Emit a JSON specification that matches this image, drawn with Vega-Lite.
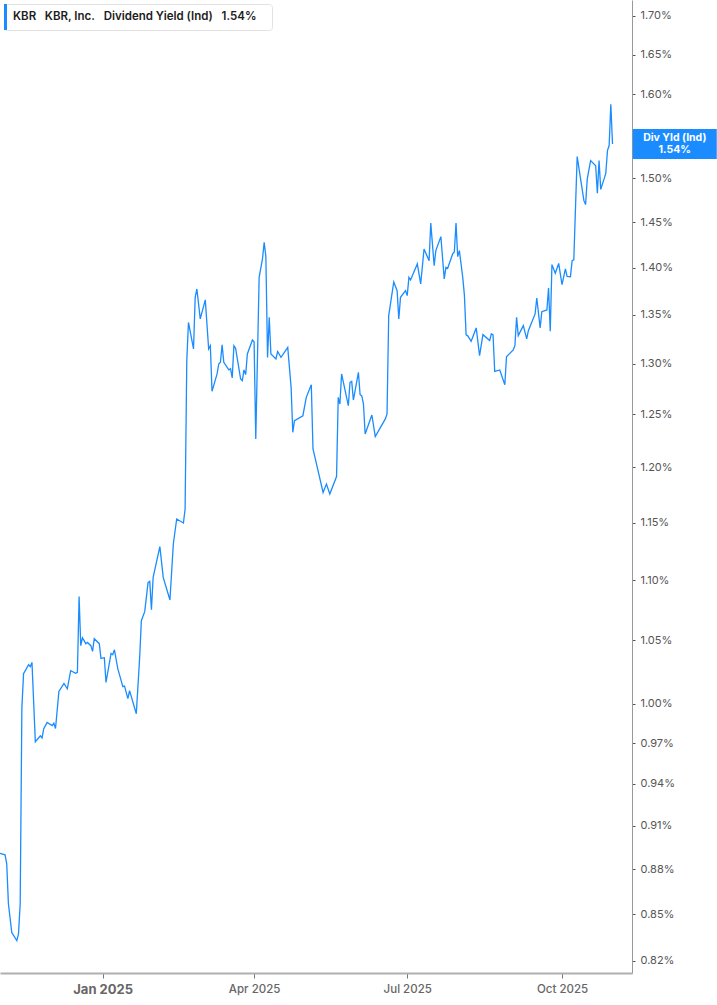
{
  "$schema": "https://vega.github.io/schema/vega-lite/v6.json",
  "width": 632,
  "height": 973,
  "autosize": "none",
  "padding": {"left": 0, "top": 0, "right": 85, "bottom": 32},
  "background": "white",
  "config": {"view": {"stroke": null}, "font": "Inter", "axis": {"grid": false, "title": null}},
  "datasets": {
    "kbr": [
      {"date": "2024-11-01", "yield": 0.8909}, {"date": "2024-11-04", "yield": 0.8900}, {"date": "2024-11-05", "yield": 0.8838},
      {"date": "2024-11-06", "yield": 0.8570}, {"date": "2024-11-08", "yield": 0.8382}, {"date": "2024-11-11", "yield": 0.8329},
      {"date": "2024-11-12", "yield": 0.8374}, {"date": "2024-11-13", "yield": 0.8570}, {"date": "2024-11-14", "yield": 0.9970},
      {"date": "2024-11-15", "yield": 1.0234}, {"date": "2024-11-18", "yield": 1.0306}, {"date": "2024-11-19", "yield": 1.0290},
      {"date": "2024-11-20", "yield": 1.0324}, {"date": "2024-11-22", "yield": 0.9711}, {"date": "2024-11-25", "yield": 0.9756},
      {"date": "2024-11-26", "yield": 0.9740}, {"date": "2024-11-27", "yield": 0.9809}, {"date": "2024-11-29", "yield": 0.9857},
      {"date": "2024-12-02", "yield": 0.9832}, {"date": "2024-12-03", "yield": 0.9850}, {"date": "2024-12-04", "yield": 0.9811},
      {"date": "2024-12-06", "yield": 1.0095}, {"date": "2024-12-09", "yield": 1.0158}, {"date": "2024-12-11", "yield": 1.0116},
      {"date": "2024-12-13", "yield": 1.0258}, {"date": "2024-12-16", "yield": 1.0237}, {"date": "2024-12-17", "yield": 1.0245},
      {"date": "2024-12-18", "yield": 1.0863}, {"date": "2024-12-19", "yield": 1.0458}, {"date": "2024-12-20", "yield": 1.0522},
      {"date": "2024-12-22", "yield": 1.0474}, {"date": "2024-12-23", "yield": 1.0484}, {"date": "2024-12-25", "yield": 1.0458},
      {"date": "2024-12-26", "yield": 1.0412}, {"date": "2024-12-27", "yield": 1.0514}, {"date": "2024-12-30", "yield": 1.0474},
      {"date": "2024-12-31", "yield": 1.0356}, {"date": "2025-01-02", "yield": 1.0361}, {"date": "2025-01-03", "yield": 1.0166},
      {"date": "2025-01-06", "yield": 1.0396}, {"date": "2025-01-07", "yield": 1.0385}, {"date": "2025-01-08", "yield": 1.0425},
      {"date": "2025-01-10", "yield": 1.0274}, {"date": "2025-01-13", "yield": 1.0132}, {"date": "2025-01-14", "yield": 1.0137},
      {"date": "2025-01-16", "yield": 1.0039}, {"date": "2025-01-17", "yield": 1.0101}, {"date": "2025-01-21", "yield": 0.9923},
      {"date": "2025-01-23", "yield": 1.0364}, {"date": "2025-01-24", "yield": 1.0661}, {"date": "2025-01-26", "yield": 1.0736},
      {"date": "2025-01-28", "yield": 1.0981}, {"date": "2025-01-29", "yield": 1.0990}, {"date": "2025-01-30", "yield": 1.0752},
      {"date": "2025-01-31", "yield": 1.1024}, {"date": "2025-02-04", "yield": 1.1288}, {"date": "2025-02-06", "yield": 1.1024},
      {"date": "2025-02-10", "yield": 1.0833}, {"date": "2025-02-12", "yield": 1.1311}, {"date": "2025-02-14", "yield": 1.1532},
      {"date": "2025-02-18", "yield": 1.1496}, {"date": "2025-02-19", "yield": 1.1621}, {"date": "2025-02-20", "yield": 1.3030},
      {"date": "2025-02-21", "yield": 1.3420}, {"date": "2025-02-24", "yield": 1.3148}, {"date": "2025-02-25", "yield": 1.3682},
      {"date": "2025-02-26", "yield": 1.3771}, {"date": "2025-02-28", "yield": 1.3456}, {"date": "2025-03-03", "yield": 1.3655},
      {"date": "2025-03-05", "yield": 1.3148}, {"date": "2025-03-06", "yield": 1.3181}, {"date": "2025-03-07", "yield": 1.2725},
      {"date": "2025-03-10", "yield": 1.2897}, {"date": "2025-03-11", "yield": 1.2997}, {"date": "2025-03-12", "yield": 1.3015},
      {"date": "2025-03-13", "yield": 1.3189}, {"date": "2025-03-14", "yield": 1.3013}, {"date": "2025-03-17", "yield": 1.2937},
      {"date": "2025-03-18", "yield": 1.2950}, {"date": "2025-03-19", "yield": 1.2857}, {"date": "2025-03-20", "yield": 1.3181},
      {"date": "2025-03-21", "yield": 1.3155}, {"date": "2025-03-24", "yield": 1.2847}, {"date": "2025-03-25", "yield": 1.2830},
      {"date": "2025-03-26", "yield": 1.2937}, {"date": "2025-03-27", "yield": 1.2890}, {"date": "2025-03-28", "yield": 1.3097},
      {"date": "2025-03-31", "yield": 1.3239}, {"date": "2025-04-01", "yield": 1.3222}, {"date": "2025-04-02", "yield": 1.2266},
      {"date": "2025-04-04", "yield": 1.3895}, {"date": "2025-04-06", "yield": 1.4097}, {"date": "2025-04-07", "yield": 1.4275},
      {"date": "2025-04-08", "yield": 1.4118}, {"date": "2025-04-09", "yield": 1.3063}, {"date": "2025-04-10", "yield": 1.3473},
      {"date": "2025-04-11", "yield": 1.3097}, {"date": "2025-04-14", "yield": 1.3047}, {"date": "2025-04-15", "yield": 1.3123},
      {"date": "2025-04-17", "yield": 1.3063}, {"date": "2025-04-21", "yield": 1.3164}, {"date": "2025-04-23", "yield": 1.2764},
      {"date": "2025-04-24", "yield": 1.2329}, {"date": "2025-04-25", "yield": 1.2441}, {"date": "2025-04-30", "yield": 1.2488},
      {"date": "2025-05-02", "yield": 1.2666}, {"date": "2025-05-05", "yield": 1.2790}, {"date": "2025-05-06", "yield": 1.2172},
      {"date": "2025-05-09", "yield": 1.1970}, {"date": "2025-05-12", "yield": 1.1770}, {"date": "2025-05-14", "yield": 1.1847},
      {"date": "2025-05-16", "yield": 1.1756}, {"date": "2025-05-20", "yield": 1.1915}, {"date": "2025-05-21", "yield": 1.2666},
      {"date": "2025-05-22", "yield": 1.2601}, {"date": "2025-05-23", "yield": 1.2897}, {"date": "2025-05-27", "yield": 1.2585},
      {"date": "2025-05-28", "yield": 1.2814}, {"date": "2025-05-29", "yield": 1.2824}, {"date": "2025-05-30", "yield": 1.2640},
      {"date": "2025-06-02", "yield": 1.2913}, {"date": "2025-06-03", "yield": 1.2692}, {"date": "2025-06-04", "yield": 1.2680},
      {"date": "2025-06-05", "yield": 1.2601}, {"date": "2025-06-06", "yield": 1.2313}, {"date": "2025-06-10", "yield": 1.2495},
      {"date": "2025-06-12", "yield": 1.2288}, {"date": "2025-06-18", "yield": 1.2457}, {"date": "2025-06-19", "yield": 1.2505},
      {"date": "2025-06-20", "yield": 1.3490}, {"date": "2025-06-23", "yield": 1.3845}, {"date": "2025-06-25", "yield": 1.3753},
      {"date": "2025-06-26", "yield": 1.3456}, {"date": "2025-06-27", "yield": 1.3682}, {"date": "2025-06-30", "yield": 1.3753},
      {"date": "2025-07-01", "yield": 1.3700}, {"date": "2025-07-02", "yield": 1.3895}, {"date": "2025-07-03", "yield": 1.3867},
      {"date": "2025-07-07", "yield": 1.4040}, {"date": "2025-07-09", "yield": 1.3824}, {"date": "2025-07-11", "yield": 1.4202},
      {"date": "2025-07-14", "yield": 1.4075}, {"date": "2025-07-15", "yield": 1.4490}, {"date": "2025-07-17", "yield": 1.4021},
      {"date": "2025-07-18", "yield": 1.4184}, {"date": "2025-07-21", "yield": 1.4338}, {"date": "2025-07-23", "yield": 1.3877},
      {"date": "2025-07-24", "yield": 1.4002}, {"date": "2025-07-25", "yield": 1.3990}, {"date": "2025-07-28", "yield": 1.4148},
      {"date": "2025-07-29", "yield": 1.4170}, {"date": "2025-07-30", "yield": 1.4490}, {"date": "2025-07-31", "yield": 1.4118},
      {"date": "2025-08-01", "yield": 1.4184}, {"date": "2025-08-03", "yield": 1.3895}, {"date": "2025-08-04", "yield": 1.3700},
      {"date": "2025-08-05", "yield": 1.3291}, {"date": "2025-08-06", "yield": 1.3282}, {"date": "2025-08-08", "yield": 1.3226},
      {"date": "2025-08-11", "yield": 1.3363}, {"date": "2025-08-13", "yield": 1.3080}, {"date": "2025-08-15", "yield": 1.3294},
      {"date": "2025-08-19", "yield": 1.3233}, {"date": "2025-08-20", "yield": 1.3302}, {"date": "2025-08-21", "yield": 1.3291},
      {"date": "2025-08-22", "yield": 1.2923}, {"date": "2025-08-25", "yield": 1.2937}, {"date": "2025-08-28", "yield": 1.2790},
      {"date": "2025-08-29", "yield": 1.3070}, {"date": "2025-09-02", "yield": 1.3139}, {"date": "2025-09-03", "yield": 1.3181},
      {"date": "2025-09-04", "yield": 1.3472}, {"date": "2025-09-05", "yield": 1.3284}, {"date": "2025-09-08", "yield": 1.3387},
      {"date": "2025-09-10", "yield": 1.3250}, {"date": "2025-09-11", "yield": 1.3335}, {"date": "2025-09-15", "yield": 1.3508},
      {"date": "2025-09-16", "yield": 1.3675}, {"date": "2025-09-18", "yield": 1.3363}, {"date": "2025-09-19", "yield": 1.3532},
      {"date": "2025-09-22", "yield": 1.3550}, {"date": "2025-09-23", "yield": 1.3782}, {"date": "2025-09-24", "yield": 1.3328},
      {"date": "2025-09-25", "yield": 1.4032}, {"date": "2025-09-27", "yield": 1.3938}, {"date": "2025-09-29", "yield": 1.4045},
      {"date": "2025-10-01", "yield": 1.3817}, {"date": "2025-10-03", "yield": 1.3985}, {"date": "2025-10-04", "yield": 1.3906},
      {"date": "2025-10-06", "yield": 1.3902}, {"date": "2025-10-07", "yield": 1.4075}, {"date": "2025-10-08", "yield": 1.4083},
      {"date": "2025-10-10", "yield": 1.5252}, {"date": "2025-10-14", "yield": 1.4742}, {"date": "2025-10-15", "yield": 1.4697},
      {"date": "2025-10-16", "yield": 1.4992}, {"date": "2025-10-18", "yield": 1.5204}, {"date": "2025-10-21", "yield": 1.5145},
      {"date": "2025-10-22", "yield": 1.4826}, {"date": "2025-10-23", "yield": 1.5204}, {"date": "2025-10-24", "yield": 1.4871},
      {"date": "2025-10-26", "yield": 1.4992}, {"date": "2025-10-27", "yield": 1.5056}, {"date": "2025-10-28", "yield": 1.5322},
      {"date": "2025-10-29", "yield": 1.5382}, {"date": "2025-10-30", "yield": 1.5880}, {"date": "2025-10-31", "yield": 1.5400}
    ],
    "tag": [{"label": ["Div Yld (Ind)", "1.54%"], "yield": 1.54}]
  },
  "layer": [
    {
      "data": {"name": "kbr"},
      "mark": {"type": "line", "strokeWidth": 1.3},
      "encoding": {
        "x": {
          "field": "date",
          "type": "temporal",
          "scale": {
            "type": "utc",
            "domain": [
              {"year": 2024, "month": 11, "date": 1, "utc": true},
              {"year": 2025, "month": 11, "date": 11, "hours": 14, "utc": true}
            ]
          },
          "axis": {
            "values": [
              {"year": 2025, "month": 1, "date": 1, "utc": true},
              {"year": 2025, "month": 4, "date": 1, "utc": true},
              {"year": 2025, "month": 7, "date": 1, "utc": true},
              {"year": 2025, "month": 10, "date": 1, "utc": true}
            ],
            "labelExpr": "utcFormat(datum.value, '%b %Y')",
            "labelFont": "Inter",
            "labelFontSize": {"condition": {"test": "utcmonth(datum.value) === 0", "value": 13}, "value": 11.5},
            "labelFontWeight": {"condition": {"test": "utcmonth(datum.value) === 0", "value": "bold"}, "value": 500},
            "labelColor": "#666666",
            "labelPadding": 5,
            "domainColor": "#b0b0b0",
            "domainWidth": 2,
            "tickColor": "#777777",
            "tickSize": 5,
            "tickWidth": 1
          }
        },
        "y": {
          "field": "yield",
          "type": "quantitative",
          "scale": {"type": "log", "domain": [0.8124, 1.721], "nice": false, "zero": false},
          "axis": {
            "orient": "right",
            "values": [0.82, 0.85, 0.88, 0.91, 0.94, 0.97, 1.0, 1.05, 1.1, 1.15, 1.2, 1.25, 1.3, 1.35, 1.4, 1.45, 1.5, 1.6, 1.65, 1.7],
            "labelExpr": "format(datum.value, '.2f') + '%'",
            "labelFont": "Inter",
            "labelFontSize": 11,
            "labelColor": "#555555",
            "labelPadding": 5,
            "domainColor": "#999999",
            "domainWidth": 1,
            "tickColor": "#555555",
            "tickSize": 3,
            "tickWidth": 1
          }
        },
        "color": {
          "datum": "KBR\u00a0\u00a0\u00a0KBR, Inc.\u00a0\u00a0\u00a0Dividend Yield (Ind)\u00a0\u00a0\u00a01.54%",
          "type": "nominal",
          "scale": {"range": ["#1a8cff"]},
          "legend": {
            "title": null,
            "orient": "top-left",
            "offset": 4,
            "padding": 0,
            "fillColor": "white",
            "strokeColor": "#e2e2e2",
            "cornerRadius": 3,
            "symbolType": "M-1,-1H-0.77V1H-1Z M19.6,0",
            "symbolSize": 676,
            "symbolFillColor": "#1a8cff",
            "symbolStrokeColor": "#1a8cff",
            "symbolStrokeWidth": 0,
            "symbolOpacity": 1,
            "labelFont": "Inter",
            "labelFontSize": 11.5,
            "labelFontWeight": 600,
            "labelColor": "#1c1c1c",
            "labelOffset": -17,
            "labelLimit": 0
          }
        }
      }
    },
    {
      "data": {"name": "tag"},
      "mark": {"type": "point", "shape": "M-1,-0.357H1V0.357H-1Z", "size": 7056, "filled": true, "opacity": 1, "color": "#1a8cff", "clip": false},
      "encoding": {
        "x": {"datum": {"year": 2025, "month": 12, "date": 7, "utc": true}, "type": "temporal"},
        "y": {"field": "yield", "type": "quantitative"}
      }
    },
    {
      "data": {"name": "tag"},
      "mark": {"type": "text", "font": "Inter", "fontSize": 10.5, "fontWeight": "bold", "color": "white", "align": "center", "baseline": "middle", "lineHeight": 12, "dy": -6.5, "clip": false},
      "encoding": {
        "x": {"datum": {"year": 2025, "month": 12, "date": 7, "utc": true}, "type": "temporal"},
        "y": {"field": "yield", "type": "quantitative"},
        "text": {"field": "label"}
      }
    }
  ]
}
